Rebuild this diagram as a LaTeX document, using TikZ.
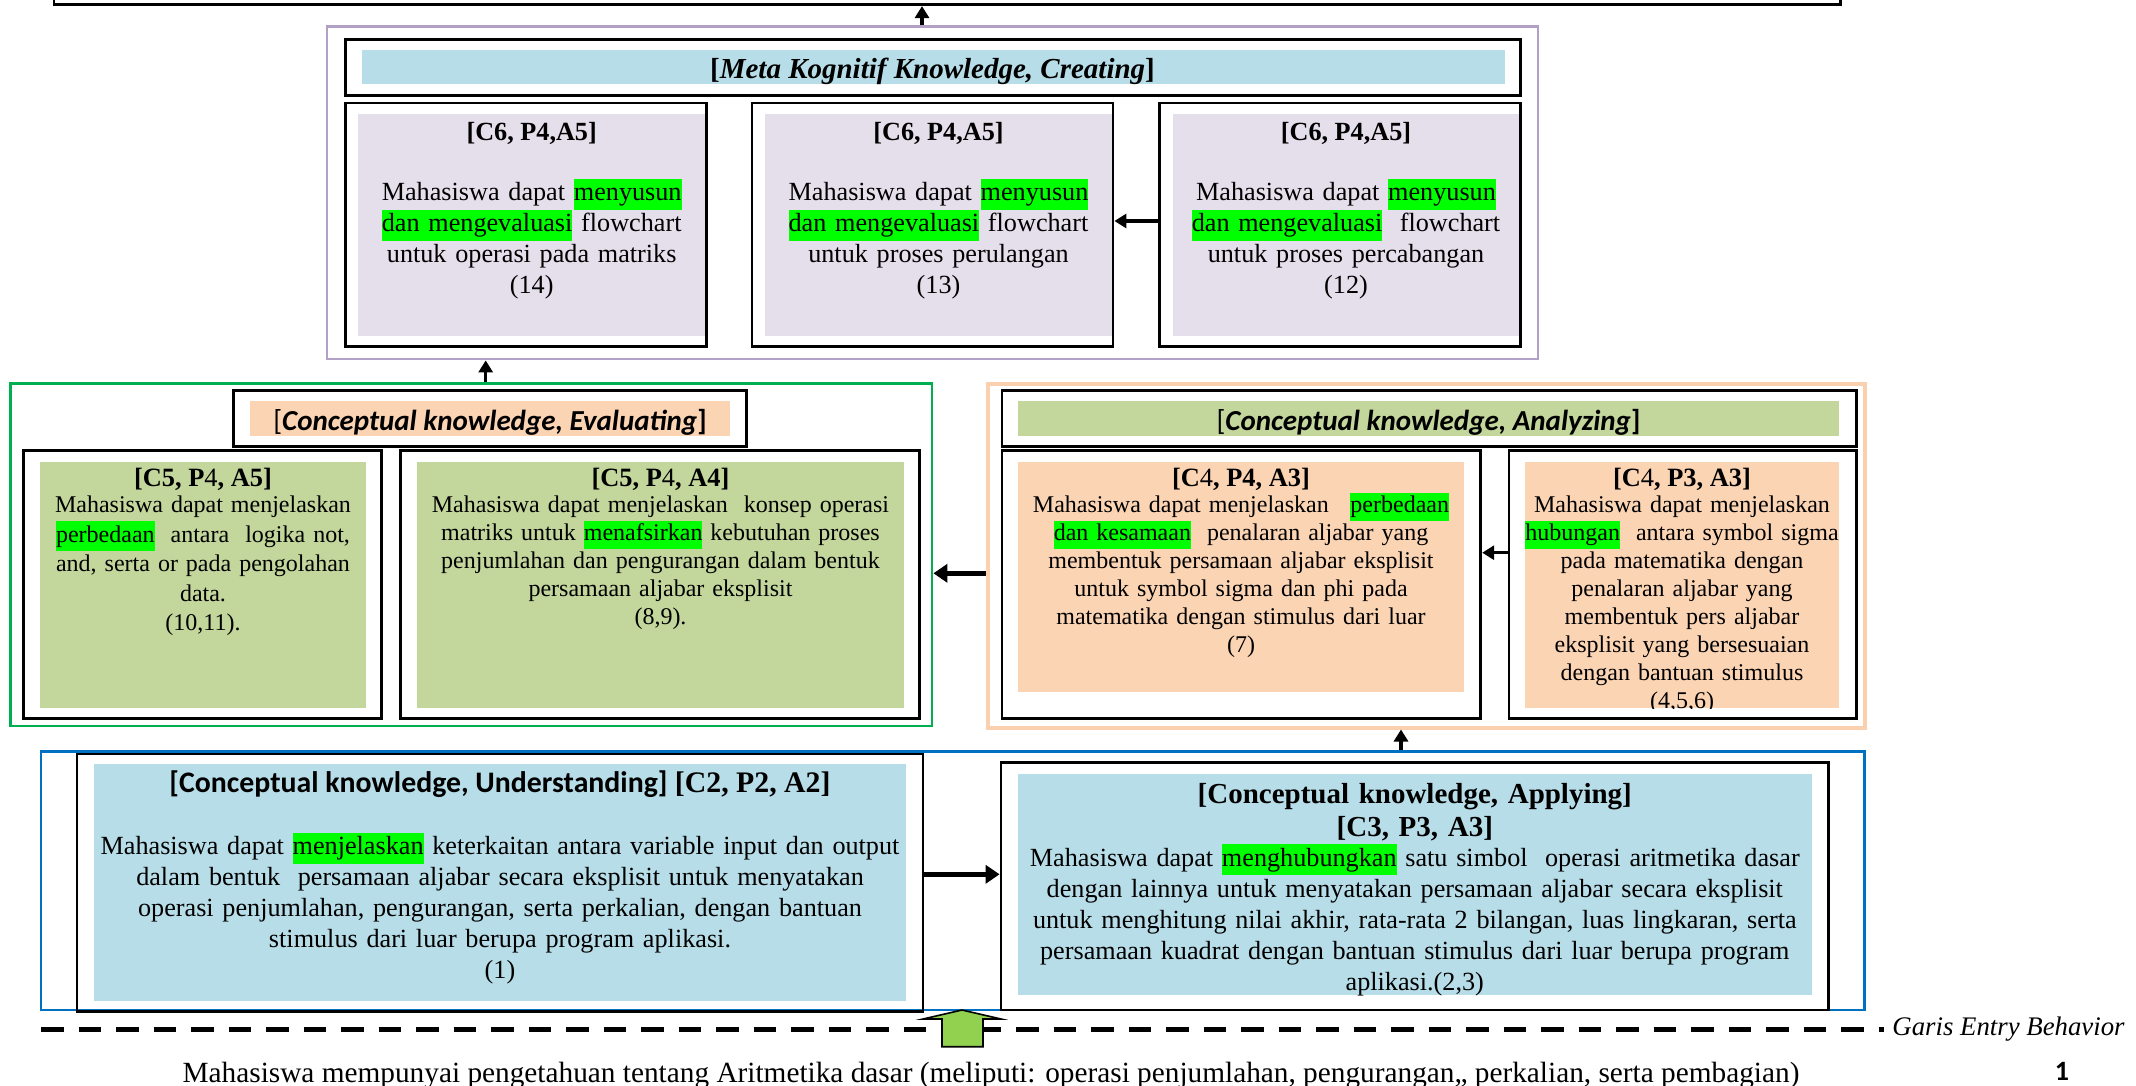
\documentclass[tikz,border=0pt]{standalone}
\usepackage{fontspec}
\setmainfont{Liberation Serif}
\newfontfamily\calibri{Carlito}
\usetikzlibrary{arrows.meta,fit}

\definecolor{fillblue}{HTML}{B7DDE8}
\definecolor{filllav}{HTML}{E5DFEC}
\definecolor{fillolive}{HTML}{C3D69B}
\definecolor{fillpeach}{HTML}{FBD4B4}
\definecolor{edgepurple}{HTML}{B2A1C7}
\definecolor{edgegreen}{HTML}{00B050}
\definecolor{edgepeach}{HTML}{FAD0AE}
\definecolor{edgeblue}{HTML}{0070C0}
\definecolor{hlgreen}{HTML}{00FF00}
\definecolor{arrowgreen}{HTML}{92D050}

% font sizes
\newcommand\fntmain{\fontsize{13.1}{15.5}\selectfont}
\newcommand\fntsmall{\fontsize{12}{14}\selectfont}
\newcommand\fntsmallwide{\fontsize{12}{14.8}\selectfont}
\newcommand\fntcode{\fontsize{13.2}{14}\selectfont\bfseries}
\newcommand\fnthead{\fontsize{14.5}{16.5}\selectfont}
\newcommand\fnttitle{\fontsize{14.9}{16.5}\selectfont}
\newcommand\fntbottom{\fontsize{14.65}{16.5}\selectfont}
% green marker behind key verbs
\newcommand\hlt[1]{{\setlength{\fboxsep}{0pt}\colorbox{hlgreen}{\strut #1}}}

\begin{document}
\begin{tikzpicture}[x=0.5pt,y=-0.5pt,
  frame/.style={draw=black,line width=1.4pt,inner sep=0pt},
  panel/.style={inner sep=0pt},
  group/.style={line width=1.4pt,inner sep=0pt},
  txt/.style={align=center,inner sep=0pt,anchor=base,text width=#1},
  txt/.default=300pt,
  line/.style={inner sep=0pt,anchor=base},
  flow/.style={-{Triangle[length=6pt,width=7pt]},line width=1.6pt},
  bigflow/.style={-{Triangle[length=7pt,width=9pt]},line width=2.4pt},
  dashline/.style={line width=2.6pt,dash pattern=on 11.25pt off 7.5pt}]
\useasboundingbox (0,0) rectangle (2136,1086);
\clip (0,0) rectangle (2136,1086);

% ---------- goal frame at the top ----------
\node[frame,fit={(54,-40) (1840.5,4.7)}] (goal) {};

% ---------- Creating level ----------
\node[group,draw=edgepurple,fit={(327,26.7) (1538,359)}] (creating) {};
\node[panel,fill=fillblue,fit={(361.7,50) (1504.6,83.7)}] (crHeadFill) {};
\node[frame,fit={(345.4,39.7) (1520.3,95.7)}] (crHead) {};
\node[line,font=\fnthead] (crTitle) at (932.5,78.5)
  {\textbf{[}\textbf{\textit{Meta Kognitif Knowledge, Creating}}\textbf{]}};

\node[panel,fill=filllav,fit={(358.3,114) (705,335.7)}] (c14fill) {};
\node[panel,fill=filllav,fit={(765,114) (1112,335.7)}] (c13fill) {};
\node[panel,fill=filllav,fit={(1173,114) (1519,335.7)}] (c12fill) {};
\node[frame,fit={(345.4,103) (706.4,346.7)}] (c14) {};
\node[frame,fit={(752,103) (1113,346.7)}] (c13) {};
\node[frame,fit={(1159.3,103) (1520.3,346.7)}] (c12) {};

\node[line,font=\fntmain\bfseries] (c14code) at (531.7,140.5) {[C6, P4,A5]};
\node[txt,font=\fntmain] (c14text) at (531.7,200.5)
  {Mahasiswa dapat \hlt{menyusun}\\\hlt{dan mengevaluasi} flowchart\\untuk operasi pada matriks\\(14)};
\node[line,font=\fntmain\bfseries] (c13code) at (938.5,140.5) {[C6, P4,A5]};
\node[txt,font=\fntmain] (c13text) at (938.5,200.5)
  {Mahasiswa dapat \hlt{menyusun}\\\hlt{dan mengevaluasi} flowchart\\untuk proses perulangan\\(13)};
\node[line,font=\fntmain\bfseries] (c12code) at (1346,140.5) {[C6, P4,A5]};
\node[txt,font=\fntmain] (c12text) at (1346,200.5)
  {Mahasiswa dapat \hlt{menyusun}\\\hlt{dan mengevaluasi}\ \ flowchart\\untuk proses percabangan\\(12)};

% ---------- Evaluating level ----------
\node[group,draw=edgegreen,fit={(10.2,383.3) (932,726)}] (evaluating) {};
\node[panel,fill=fillpeach,fit={(250,401) (730,435.7)}] (evHeadFill) {};
\node[frame,fit={(233.7,390.7) (746.6,446.7)}] (evHead) {};
\node[line,font=\fnthead\calibri] (evTitle) at (490,430)
  {[\textbf{\textit{Conceptual knowledge, Evaluating}}\textbf{]}};

\node[panel,fill=fillolive,fit={(40.2,462.3) (365.8,707.7)}] (e1fill) {};
\node[panel,fill=fillolive,fit={(417,462.3) (904,707.7)}] (e2fill) {};
\node[frame,fit={(23.8,450.7) (381.5,718.3)}] (e1) {};
\node[frame,fit={(400.5,450.7) (919.6,718.3)}] (e2) {};

\node[line,font=\fntcode] (e1code) at (203,486.5) {[C5, P{\mdseries 4}, A5]};
\node[txt,font=\fntsmallwide] (e1text) at (203,512.5)
  {Mahasiswa dapat menjelaskan\\\hlt{perbedaan}\ \ antara\ \ logika not,\\and, serta or pada pengolahan\\data.\\(10,11).};
\node[line,font=\fntcode] (e2code) at (660.5,486.5) {[C5, P{\mdseries 4}, A4]};
\node[txt,font=\fntsmall] (e2text) at (660.5,512.5)
  {Mahasiswa dapat menjelaskan\ \ konsep operasi\\matriks untuk \hlt{menafsirkan} kebutuhan proses\\penjumlahan dan pengurangan dalam bentuk\\persamaan aljabar eksplisit\\(8,9).};

% ---------- Analyzing level ----------
\node[group,draw=edgepeach,line width=1.8pt,fit={(987.8,384) (1864.7,727.7)}] (analyzing) {};
\node[panel,fill=fillolive,fit={(1017.8,401) (1839.2,435.7)}] (anHeadFill) {};
\node[frame,fit={(1001.9,390.7) (1856.5,446.7)}] (anHead) {};
\node[line,font=\fnthead\calibri] (anTitle) at (1428.5,430)
  {[\textbf{\textit{Conceptual knowledge, Analyzing}}\textbf{]}};

\node[panel,fill=fillpeach,fit={(1017.8,462.3) (1464.2,691.7)}] (a1fill) {};
\node[panel,fill=fillpeach,fit={(1524.8,462.3) (1839.2,707.7)}] (a2fill) {};
\node[frame,fit={(1001.9,450.7) (1480.8,718.3)}] (a1) {};
\node[frame,fit={(1508.9,450.7) (1856.5,718.3)}] (a2) {};

\node[line,font=\fntcode] (a1code) at (1241,486.5) {[C{\mdseries 4}, P4, A3]};
\node[txt,font=\fntsmall] (a1text) at (1241,512.5)
  {Mahasiswa dapat menjelaskan\hspace{0.9em}\hlt{perbedaan}\\\hlt{dan kesamaan}\ \ penalaran aljabar yang\\membentuk persamaan aljabar eksplisit\\untuk symbol sigma dan phi pada\\matematika dengan stimulus dari luar\\(7)};
\node[line,font=\fntcode] (a2code) at (1682,486.5) {[C{\mdseries 4}, P3, A3]};
\begin{scope}
  \clip (a2fill.north west) rectangle (a2fill.south east);
  \node[txt,font=\fntsmall] (a2text) at (1682,512.5)
    {Mahasiswa dapat menjelaskan\\\hlt{hubungan}\ \ antara symbol sigma\\pada matematika dengan\\penalaran aljabar yang\\membentuk pers aljabar\\eksplisit yang bersesuaian\\dengan bantuan stimulus\\(4,5,6)};
\end{scope}

% ---------- Understanding / Applying level ----------
\node[group,draw=edgeblue,fit={(40.9,751.7) (1864.5,1010)}] (foundation) {};
\node[panel,fill=fillblue,fit={(94,764) (906,1000.7)}] (ufill) {};
\node[panel,fill=fillblue,fit={(1017.8,774) (1811.8,995)}] (pfill) {};
\node[frame,fit={(77,754) (923,1011.7)}] (understanding) {};
\node[frame,fit={(1001,762.7) (1828.6,1010)}] (applying) {};

\node[line,font=\fnttitle\bfseries] (uTitle) at (500,792.5)
  {{\calibri [Conceptual knowledge, Understanding]} [C2, P2, A2]};
\node[txt=500pt,font=\fntmain] (uText) at (500,854.5)
  {Mahasiswa dapat \hlt{menjelaskan} keterkaitan antara variable input dan output\\dalam bentuk\ \ persamaan aljabar secara eksplisit untuk menyatakan\\operasi penjumlahan, pengurangan, serta perkalian, dengan bantuan\\stimulus dari luar berupa program aplikasi.\\(1)};

\node[txt,font=\fnthead\bfseries] (pTitle) at (1414.8,803)
  {[Conceptual knowledge, Applying]\\{}[C3, P3, A3]};
\node[txt=500pt,font=\fntmain] (pText) at (1414.8,866)
  {Mahasiswa dapat \hlt{menghubungkan} satu simbol\ \ operasi aritmetika dasar\\dengan lainnya untuk menyatakan persamaan aljabar secara eksplisit\\untuk menghitung nilai akhir, rata-rata 2 bilangan, luas lingkaran, serta\\persamaan kuadrat dengan bantuan stimulus dari luar berupa program\\aplikasi.(2,3)};

% ---------- entry behaviour line ----------
\coordinate (dashStart) at (41,1029.3);
\node[line,anchor=base west,inner xsep=4pt,font=\fontsize{13.4}{15.5}\selectfont\itshape] (entry) at (1884,1035) {Garis Entry Behavior};
\draw[dashline] (dashStart) -- (entry.west |- dashStart);
\node[line,font=\fntbottom] (prior) at (991,1082)
  {Mahasiswa mempunyai pengetahuan tentang Aritmetika dasar (meliputi: operasi penjumlahan, pengurangan,, perkalian, serta pembagian)};
\node[line,font=\fontsize{14}{16}\selectfont\calibri\bfseries] (pageno) at (2062,1080) {1};

% block arrow from the prior knowledge into the first level
\filldraw[fill=arrowgreen,draw=black,line width=0.8pt]
  (962,1010) -- (1001,1019) -- (983,1019) -- (983,1046.7) -- (942,1046.7) -- (942,1019) -- (923,1019) -- cycle;

% ---------- connectors ----------
\coordinate (xGoal) at (922,0);
\coordinate (xEval) at (485.7,0);
\coordinate (xAnal) at (1401,0);
\coordinate (yCr) at (0,221);
\coordinate (yAn) at (0,552.7);
\coordinate (yMid) at (0,573.3);
\coordinate (yLow) at (0,874.3);
\draw[flow] (creating.north -| xGoal) -- (goal.south -| xGoal);
\draw[flow] (evaluating.north -| xEval) -- (creating.south -| xEval);
\draw[flow] (foundation.north -| xAnal) -- (analyzing.south -| xAnal);
\draw[flow] (c12.west |- yCr) -- (c13.east |- yCr);
\draw[flow] (a2.west |- yAn) -- (a1.east |- yAn);
\draw[bigflow] (analyzing.west |- yMid) -- (evaluating.east |- yMid);
\draw[bigflow] (understanding.east |- yLow) -- (applying.west |- yLow);
\end{tikzpicture}
\end{document}
